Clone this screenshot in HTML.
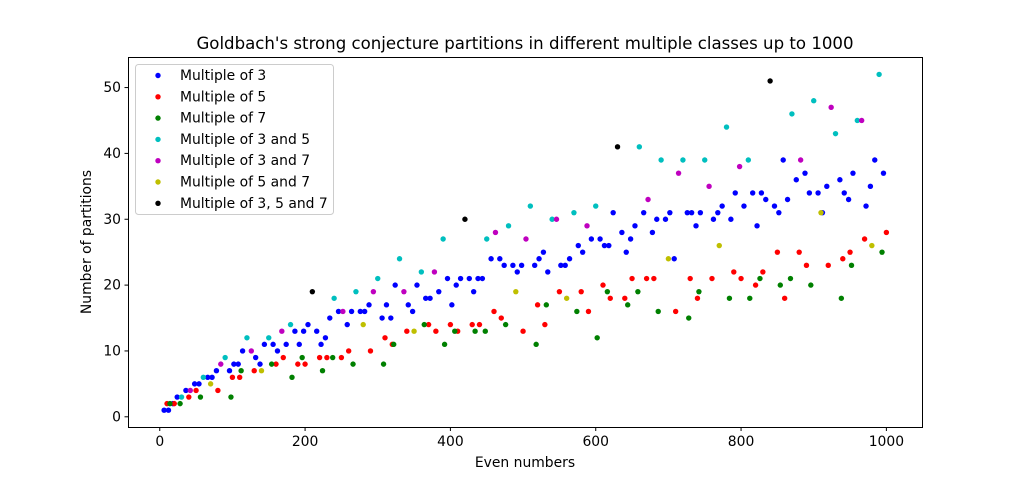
<!DOCTYPE html>
<html><head><meta charset="utf-8"><style>
body{margin:0;background:#fff;}
svg{display:block;font-family:"DejaVu Sans","Liberation Sans",sans-serif;}
</style></head><body>
<svg id="chart" width="1025" height="480" viewBox="0 0 1025 480" xmlns="http://www.w3.org/2000/svg">
<rect width="1025" height="480" fill="#fff"/>
<text x="525" y="49" font-size="16.6" text-anchor="middle">Goldbach's strong conjecture partitions in different multiple classes up to 1000</text>
<g id="marks"></g>
<rect x="128.5" y="57.5" width="794" height="370" fill="none" stroke="#000" stroke-width="1"/>
<g id="axes"></g>
<text x="525" y="467" font-size="13.9" text-anchor="middle">Even numbers</text>
<text transform="translate(91,242) rotate(-90)" font-size="13.9" text-anchor="middle">Number of partitions</text>
<g id="legend"></g>
</svg>
<script>
const xTicks=[0,200,400,600,800,1000];
const yTicks=[0,10,20,30,40,50];
const m3X=[6,12,18,24,36,48,54,66,72,78,96,102,108,114,132,138,144,156,162,174,186,192,198,204,216,222,228,234,246,258,264,276,282,288,306,312,318,324,342,348,354,366,372,384,396,402,408,414,426,432,438,444,456,468,474,486,492,498,516,522,528,534,552,558,564,576,582,594,606,612,618,624,636,642,648,654,666,678,684,696,702,708,726,732,738,744,762,768,774,786,792,804,816,822,828,834,846,852,858,864,876,888,894,906,912,918,936,942,948,954,972,978,984,996];
const m3Y=[1,1,2,3,4,5,5,6,6,7,7,8,8,10,9,8,11,11,10,11,13,11,13,14,13,11,12,15,16,14,16,16,16,17,15,17,15,20,17,16,20,18,18,19,21,17,20,21,21,19,21,21,24,24,23,23,22,23,23,24,25,22,23,23,24,26,25,27,27,26,26,31,28,25,27,29,31,28,30,30,31,24,31,31,29,31,30,31,32,30,34,32,34,29,34,33,32,31,39,33,36,37,34,34,31,35,36,34,33,37,32,35,39,37];
const m5X=[10,20,40,50,80,100,110,130,160,170,190,200,220,230,250,260,290,310,320,340,370,380,400,410,430,440,460,470,500,520,530,550,580,590,610,620,640,650,670,680,710,730,740,760,790,800,820,830,850,860,880,890,920,940,950,970,1000];
const m5Y=[2,2,3,4,4,6,6,7,8,9,8,8,9,9,9,10,10,12,11,13,14,13,14,13,14,14,16,15,13,17,14,19,19,16,20,18,18,21,21,21,16,21,18,21,22,21,20,22,25,18,25,23,23,24,25,27,28];
const m7X=[14,28,56,98,112,154,182,196,224,238,266,308,322,364,392,406,434,448,476,518,532,574,602,616,644,658,686,728,742,784,812,826,854,868,896,938,952,994];
const m7Y=[2,2,3,3,7,8,6,9,7,9,8,8,11,14,11,13,13,13,14,11,17,16,12,19,17,19,16,15,19,18,18,21,20,21,20,18,23,25];
const m35X=[30,60,90,120,150,180,240,270,300,330,360,390,450,480,510,540,570,600,660,690,720,750,780,810,870,900,930,960,990];
const m35Y=[3,6,9,12,12,14,18,19,21,24,22,27,27,29,32,30,31,32,41,39,39,39,44,39,46,48,43,45,52];
const m37X=[42,84,126,168,252,294,336,378,462,504,546,588,672,714,756,798,882,924,966];
const m37Y=[4,8,10,13,16,19,19,22,28,27,30,29,33,37,35,38,39,47,45];
const m57X=[70,140,280,350,490,560,700,770,910,980];
const m57Y=[5,7,14,13,19,18,24,26,31,26];
const m357X=[210,420,630,840];
const m357Y=[19,30,41,51];
const seriesNames=["Multiple of 3","Multiple of 5","Multiple of 7","Multiple of 3 and 5","Multiple of 3 and 7","Multiple of 5 and 7","Multiple of 3, 5 and 7"];
const NS="http://www.w3.org/2000/svg";
const X0=128,X1=922.5,Y0=427,Y1=57.6,xmin=-43.7,xmax=1049.7,ymin=-1.55,ymax=54.55;
function sx(v){return X0+(v-xmin)/(xmax-xmin)*(X1-X0);}
function sy(v){return Y0-(v-ymin)/(ymax-ymin)*(Y0-Y1);}
function mk(t,a){const e=document.createElementNS(NS,t);for(const k in a)e.setAttribute(k,a[k]);return e;}
const axes=document.getElementById('axes');
xTicks.forEach(t=>{const x=sx(t);
 const l=mk('line',{x1:x,x2:x,y1:427.5,y2:431,stroke:'#000'});
 
 
 axes.appendChild(l);
 const tx=mk('text',{x:x,y:446,'font-size':13.9,'text-anchor':'middle'});tx.textContent=t;
 
 
 axes.appendChild(tx);});
yTicks.forEach(t=>{const y=sy(t);
 const l=mk('line',{x1:124.5,x2:128.5,y1:y,y2:y,stroke:'#000'});
 
 
 axes.appendChild(l);
 const tx=mk('text',{x:121,y:y+4.5,'font-size':13.9,'text-anchor':'end'});tx.textContent=t;
 
 
 axes.appendChild(tx);});
const series=[[m3X,m3Y,'#0000ff'],[m5X,m5Y,'#ff0000'],[m7X,m7Y,'#008000'],[m35X,m35Y,'#00bfbf'],[m37X,m37Y,'#bf00bf'],[m57X,m57Y,'#bfbf00'],[m357X,m357Y,'#000000']];
const marks=document.getElementById('marks');
series.forEach((s,i)=>{const g=mk('g',{});
 
 
 s[0].forEach((xv,j)=>{const c=mk('circle',{cx:sx(xv),cy:sy(s[1][j]),r:2.7,fill:s[2]});
  
  
  g.appendChild(c);});
 marks.appendChild(g);});
const lg=document.getElementById('legend');
const box=mk('rect',{x:135.5,y:64.5,width:198,height:150,rx:3,fill:'#fff','fill-opacity':0.8,stroke:'#ccc'});


lg.appendChild(box);
seriesNames.forEach((n,i)=>{const y=75.5+i*21.3;
 const g=mk('g',{});
 
 
 g.appendChild(mk('circle',{cx:158,cy:y,r:2.7,fill:series[i][2]}));
 const t=mk('text',{x:180,y:y+4.5,'font-size':13.9});t.textContent=n;g.appendChild(t);
 lg.appendChild(g);});
</script>
</body></html>
